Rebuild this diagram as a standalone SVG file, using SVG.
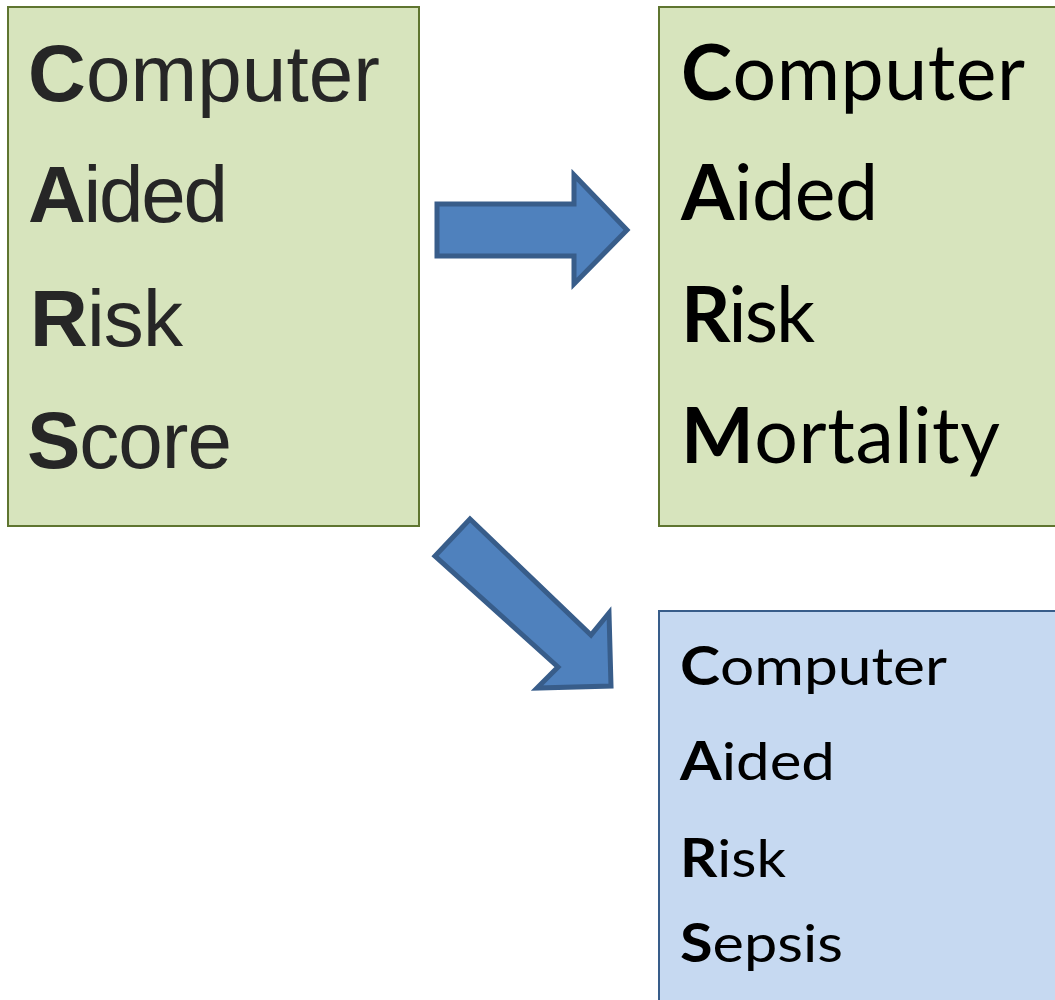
<svg xmlns="http://www.w3.org/2000/svg" width="1055" height="1000" viewBox="0 0 1055 1000">
<style>
.green{fill:#d7e4bd;stroke:#5f7530;stroke-width:2}
.blue{fill:#c6d9f1;stroke:#385d8a;stroke-width:2}
.lt{font-family:"Liberation Sans",Arial,sans-serif;font-size:80px;fill:#262626}
.rt{font-family:Lato,"Open Sans",sans-serif;fill:#000}
.big{font-size:77px}
.small{font-size:53px}
.b{font-weight:bold}
.arrow{fill:#4f81bd;stroke:#385d8a;stroke-width:5;stroke-linejoin:miter}
</style>
<rect width="1055" height="1000" fill="#fff"/>
<g id="node-cars">
<rect class="green" x="8" y="7" width="411" height="519"/>
<text class="lt" x="28" y="101" textLength="352"><tspan class="b">C</tspan>omputer</text>
<text class="lt" x="28" y="222" textLength="200"><tspan class="b">A</tspan>ided</text>
<text class="lt" x="30" y="346" textLength="153"><tspan class="b">R</tspan>isk</text>
<text class="lt" x="27" y="468" textLength="205"><tspan class="b">S</tspan>core</text>
</g>
<g id="node-carm">
<rect class="green" x="659" y="7" width="400" height="519"/>
<text class="rt big" x="681" y="100" textLength="344"><tspan class="b">C</tspan>omputer</text>
<text class="rt big" x="681" y="220" textLength="197"><tspan class="b">A</tspan>ided</text>
<text class="rt big" x="681" y="342" textLength="134"><tspan class="b">R</tspan>isk</text>
<text class="rt big" x="681" y="463" textLength="319"><tspan class="b">M</tspan>ortality</text>
</g>
<g id="node-cars-sepsis">
<rect class="blue" x="659" y="611" width="400" height="400"/>
<text class="rt small" x="680" y="685" textLength="267" lengthAdjust="spacingAndGlyphs"><tspan class="b">C</tspan>omputer</text>
<text class="rt small" x="680" y="780" textLength="155" lengthAdjust="spacingAndGlyphs"><tspan class="b">A</tspan>ided</text>
<text class="rt small" x="680" y="877" textLength="106" lengthAdjust="spacingAndGlyphs"><tspan class="b">R</tspan>isk</text>
<text class="rt small" x="680" y="962" textLength="163" lengthAdjust="spacingAndGlyphs"><tspan class="b">S</tspan>epsis</text>
</g>
<g id="connectors">
<polygon class="arrow" points="437,204 574,204 574,175 627,230 574,284 574,256 437,256"/>
<polygon class="arrow" points="470,519 591,635 609,613 611,686 537,688 558,667 435,556"/>
</g>
</svg>
